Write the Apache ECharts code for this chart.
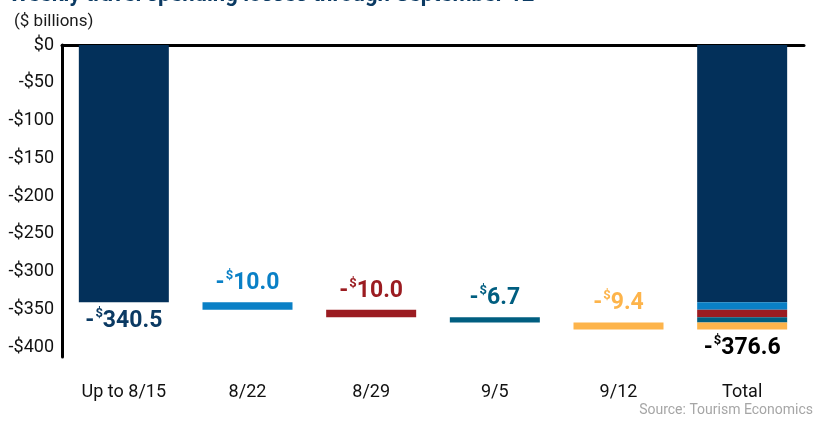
<!DOCTYPE html>
<html>
<head>
<meta charset="utf-8">
<script src="https://cdn.jsdelivr.net/npm/echarts@6/dist/echarts.min.js"></script>
<style>
  html, body { margin: 0; padding: 0; background: #fff; }
  #main { width: 828px; height: 425px; }
</style>
</head>
<body>
<div id="main"></div>
<script>
// travel spending losses, $ billions
const categories = ['Up to 8/15', '8/22', '8/29', '9/5', '9/12', 'Total'];
const weeklyLoss = [-340.5, -10.0, -10.0, -6.7, -9.4];
const totalLoss = -376.6;
const yTicks = [0, -50, -100, -150, -200, -250, -300, -350, -400];

const barColors = ['#03305A', '#0A80C6', '#9B1C21', '#005E80', '#FDB44B'];
const labelColors = ['#0B3A63', '#0A80C6', '#9B1C21', '#005E80', '#FDB44B', '#000000'];

const font = 'Roboto, "Noto Sans", sans-serif';

// running total before each week (invisible base of the waterfall)
let running = 0;
const startOf = weeklyLoss.map(v => { const s = running; running += v; return s; });

const helper = categories.map((c, i) => (i > 0 && i < weeklyLoss.length) ? startOf[i] : '-');

const weekSeries = weeklyLoss.map((v, k) => ({
  name: categories[k],
  type: 'bar',
  stack: 'loss',
  barWidth: 90,
  silent: true,
  itemStyle: { color: barColors[k] },
  data: categories.map((c, i) => (i === k || i === categories.length - 1) ? v : '-')
}));

function richFor(color) {
  return {
    m: { fontFamily: font, fontWeight: 'bold', fontSize: 23, color: color, lineHeight: 28 },
    s: { fontFamily: font, fontWeight: 'bold', fontSize: 13, color: color, lineHeight: 28, verticalAlign: 'top', padding: [0, 0, 14, 1] }
  };
}

// label anchors: first week and total below the bar end, other weeks above the bar top
const labelPoints = categories.map((c, i) => {
  const isLast = i === categories.length - 1;
  const below = i === 0 || isLast;
  const y = isLast ? totalLoss : (i === 0 ? weeklyLoss[0] : startOf[i]);
  const shown = isLast ? totalLoss : weeklyLoss[i];
  return {
    value: [i, y],
    label: {
      show: true,
      position: below ? 'bottom' : 'top',
      distance: 5,
      formatter: '{m|-}{s|$}{m|' + Math.abs(shown).toFixed(1) + '}',
      rich: richFor(labelColors[i])
    }
  };
});

const chart = echarts.init(document.getElementById('main'));

chart.setOption({
  animation: false,
  title: [
    {
      text: 'Weekly travel spending losses through September 12',
      left: 4, top: -21,
      textStyle: { fontFamily: font, fontWeight: 'bold', fontSize: 22, color: '#0B3A63' }
    },
    {
      text: '($ billions)',
      left: 9, top: 8,
      textStyle: { fontFamily: font, fontWeight: 'normal', fontSize: 17, color: '#1a1a1a' }
    },
    {
      text: 'Source: Tourism Economics',
      right: 10, bottom: 3,
      textStyle: { fontFamily: font, fontWeight: 'normal', fontSize: 14, color: '#a6a6a6' }
    }
  ],
  grid: { left: 62, right: 24, top: 45, bottom: 68 },
  xAxis: [
    {
      type: 'category',
      data: categories,
      position: 'bottom',
      axisLine: { show: false },
      axisTick: { show: false },
      axisLabel: { fontFamily: font, fontSize: 18, color: '#111', margin: 26 }
    },
    {
      type: 'category',
      data: categories,
      position: 'top',
      axisLine: { show: true, onZero: false, lineStyle: { color: '#000', width: 3 } },
      axisTick: { show: false },
      axisLabel: { show: false }
    }
  ],
  yAxis: {
    type: 'value',
    min: -413,
    max: 0,
    axisLine: { show: true, lineStyle: { color: '#000', width: 3 } },
    axisTick: { show: false },
    splitLine: { show: false },
    axisLabel: {
      customValues: yTicks,
      fontFamily: font, fontSize: 18, color: '#111', margin: 8,
      formatter: v => v === 0 ? '$0' : '-$' + Math.abs(v)
    }
  },
  series: [
    {
      name: 'base',
      type: 'bar',
      stack: 'loss',
      barWidth: 90,
      silent: true,
      itemStyle: { color: 'transparent' },
      data: helper
    },
    ...weekSeries,
    {
      name: 'labels',
      type: 'scatter',
      symbolSize: 0,
      silent: true,
      z: 5,
      itemStyle: { opacity: 1 },
      data: labelPoints
    }
  ]
});
</script>
</body>
</html>
